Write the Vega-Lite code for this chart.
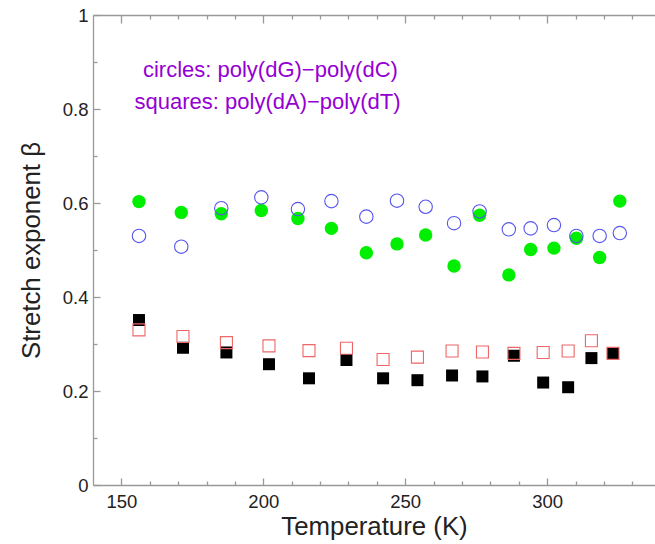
{
  "$schema": "https://vega.github.io/schema/vega-lite/v6.json",
  "width": 562,
  "height": 470,
  "autosize": {"type": "none"},
  "padding": {"left": 93, "top": 15, "right": 0, "bottom": 59},
  "background": "white",
  "config": {
    "view": {"stroke": null},
    "font": "Liberation Sans",
    "axis": {
      "grid": false,
      "domainColor": "#999999",
      "tickColor": "#999999",
      "domainWidth": 1.3,
      "tickWidth": 1.3,
      "labelColor": "#222222",
      "titleColor": "#222222",
      "labelFont": "Liberation Sans",
      "titleFont": "Liberation Sans",
      "labelFontSize": 18.5,
      "titleFontSize": 25.8,
      "titleFontWeight": "normal"
    }
  },
  "data": {
    "values": [
      {"T": 156.2, "beta": 0.603, "series": "GC filled"},
      {"T": 171.1, "beta": 0.580, "series": "GC filled"},
      {"T": 185.2, "beta": 0.577, "series": "GC filled"},
      {"T": 199.3, "beta": 0.584, "series": "GC filled"},
      {"T": 212.2, "beta": 0.567, "series": "GC filled"},
      {"T": 224.0, "beta": 0.546, "series": "GC filled"},
      {"T": 236.3, "beta": 0.494, "series": "GC filled"},
      {"T": 247.1, "beta": 0.513, "series": "GC filled"},
      {"T": 257.2, "beta": 0.532, "series": "GC filled"},
      {"T": 267.2, "beta": 0.466, "series": "GC filled"},
      {"T": 276.2, "beta": 0.574, "series": "GC filled"},
      {"T": 286.5, "beta": 0.447, "series": "GC filled"},
      {"T": 294.2, "beta": 0.501, "series": "GC filled"},
      {"T": 302.4, "beta": 0.504, "series": "GC filled"},
      {"T": 310.3, "beta": 0.525, "series": "GC filled"},
      {"T": 318.5, "beta": 0.484, "series": "GC filled"},
      {"T": 325.6, "beta": 0.604, "series": "GC filled"},

      {"T": 156.2, "beta": 0.530, "series": "GC open"},
      {"T": 171.1, "beta": 0.507, "series": "GC open"},
      {"T": 185.2, "beta": 0.589, "series": "GC open"},
      {"T": 199.3, "beta": 0.612, "series": "GC open"},
      {"T": 212.2, "beta": 0.587, "series": "GC open"},
      {"T": 224.0, "beta": 0.604, "series": "GC open"},
      {"T": 236.3, "beta": 0.571, "series": "GC open"},
      {"T": 247.1, "beta": 0.605, "series": "GC open"},
      {"T": 257.2, "beta": 0.592, "series": "GC open"},
      {"T": 267.2, "beta": 0.557, "series": "GC open"},
      {"T": 276.2, "beta": 0.582, "series": "GC open"},
      {"T": 286.5, "beta": 0.544, "series": "GC open"},
      {"T": 294.2, "beta": 0.546, "series": "GC open"},
      {"T": 302.4, "beta": 0.553, "series": "GC open"},
      {"T": 310.3, "beta": 0.530, "series": "GC open"},
      {"T": 318.5, "beta": 0.530, "series": "GC open"},
      {"T": 325.6, "beta": 0.536, "series": "GC open"},

      {"T": 156.2, "beta": 0.351, "series": "AT filled"},
      {"T": 171.7, "beta": 0.292, "series": "AT filled"},
      {"T": 187.0, "beta": 0.282, "series": "AT filled"},
      {"T": 202.0, "beta": 0.257, "series": "AT filled"},
      {"T": 216.1, "beta": 0.227, "series": "AT filled"},
      {"T": 229.3, "beta": 0.266, "series": "AT filled"},
      {"T": 242.2, "beta": 0.227, "series": "AT filled"},
      {"T": 254.3, "beta": 0.223, "series": "AT filled"},
      {"T": 266.5, "beta": 0.233, "series": "AT filled"},
      {"T": 277.2, "beta": 0.231, "series": "AT filled"},
      {"T": 288.3, "beta": 0.275, "series": "AT filled"},
      {"T": 298.6, "beta": 0.218, "series": "AT filled"},
      {"T": 307.4, "beta": 0.208, "series": "AT filled"},
      {"T": 315.6, "beta": 0.270, "series": "AT filled"},
      {"T": 323.2, "beta": 0.280, "series": "AT filled"},

      {"T": 156.2, "beta": 0.330, "series": "AT open"},
      {"T": 171.7, "beta": 0.316, "series": "AT open"},
      {"T": 187.0, "beta": 0.303, "series": "AT open"},
      {"T": 202.0, "beta": 0.296, "series": "AT open"},
      {"T": 216.1, "beta": 0.286, "series": "AT open"},
      {"T": 229.3, "beta": 0.291, "series": "AT open"},
      {"T": 242.2, "beta": 0.267, "series": "AT open"},
      {"T": 254.3, "beta": 0.272, "series": "AT open"},
      {"T": 266.5, "beta": 0.285, "series": "AT open"},
      {"T": 277.2, "beta": 0.283, "series": "AT open"},
      {"T": 288.3, "beta": 0.280, "series": "AT open"},
      {"T": 298.6, "beta": 0.282, "series": "AT open"},
      {"T": 307.4, "beta": 0.285, "series": "AT open"},
      {"T": 315.6, "beta": 0.307, "series": "AT open"},
      {"T": 323.2, "beta": 0.280, "series": "AT open"}
    ]
  },
  "layer": [
    {
      "transform": [{"filter": "datum.series === 'GC filled'"}],
      "mark": {"type": "point", "shape": "circle", "filled": true, "size": 180, "color": "#00ee00", "opacity": 1},
      "encoding": {
        "x": {"field": "T", "type": "quantitative", "scale": {"domain": [140, 338], "nice": false, "zero": false},
              "axis": {"orient": "bottom", "values": [160, 170, 180, 190, 210, 220, 230, 240, 260, 270, 280, 290, 310, 320, 330], "labels": false, "tickSize": -4, "domain": false, "title": null}},
        "y": {"field": "beta", "type": "quantitative", "scale": {"domain": [0, 1], "nice": false},
              "axis": {"orient": "left", "values": [0.1, 0.3, 0.5, 0.7, 0.9], "labels": false, "tickSize": -4, "domain": false, "title": null}}
      }
    },
    {
      "transform": [{"filter": "datum.series === 'GC open'"}],
      "mark": {"type": "point", "shape": "circle", "filled": false, "size": 180, "color": "#5555ee", "strokeWidth": 1.1, "opacity": 1},
      "encoding": {
        "x": {"field": "T", "type": "quantitative",
              "axis": {"orient": "bottom", "values": [150, 200, 250, 300], "tickSize": -7, "labelPadding": 14, "title": "Temperature (K)", "titlePadding": 4}},
        "y": {"field": "beta", "type": "quantitative",
              "axis": {"orient": "left", "values": [0, 0.2, 0.4, 0.6, 0.8, 1], "format": "~g", "tickSize": -7, "labelPadding": 12, "title": "Stretch exponent β", "titlePadding": 18}}
      }
    },
    {
      "transform": [{"filter": "datum.series === 'AT filled'"}],
      "mark": {"type": "point", "shape": "square", "filled": true, "size": 144, "color": "#000000", "opacity": 1},
      "encoding": {
        "x": {"field": "T", "type": "quantitative",
              "axis": {"orient": "top", "values": [160, 170, 180, 190, 210, 220, 230, 240, 260, 270, 280, 290, 310, 320, 330], "labels": false, "tickSize": -4, "domain": false, "title": null}},
        "y": {"field": "beta", "type": "quantitative", "axis": null}
      }
    },
    {
      "transform": [{"filter": "datum.series === 'AT open'"}],
      "mark": {"type": "point", "shape": "square", "filled": false, "size": 144, "color": "#ee6666", "strokeWidth": 1.1, "opacity": 1},
      "encoding": {
        "x": {"field": "T", "type": "quantitative",
              "axis": {"orient": "top", "values": [150, 200, 250, 300], "labels": false, "tickSize": -8, "title": null}},
        "y": {"field": "beta", "type": "quantitative", "axis": null}
      }
    },
    {
      "data": {"values": [
        {"label": "circles: poly(dG)−poly(dC)", "T": 202.5, "beta": 0.882},
        {"label": "squares: poly(dA)−poly(dT)", "T": 201.5, "beta": 0.815}
      ]},
      "mark": {"type": "text", "font": "Liberation Sans", "fontSize": 22, "color": "#9400d3", "align": "center", "baseline": "middle"},
      "encoding": {
        "text": {"field": "label"},
        "x": {"field": "T", "type": "quantitative", "axis": null},
        "y": {"field": "beta", "type": "quantitative", "axis": null}
      }
    }
  ],
  "resolve": {"axis": {"x": "independent", "y": "independent"}}
}
